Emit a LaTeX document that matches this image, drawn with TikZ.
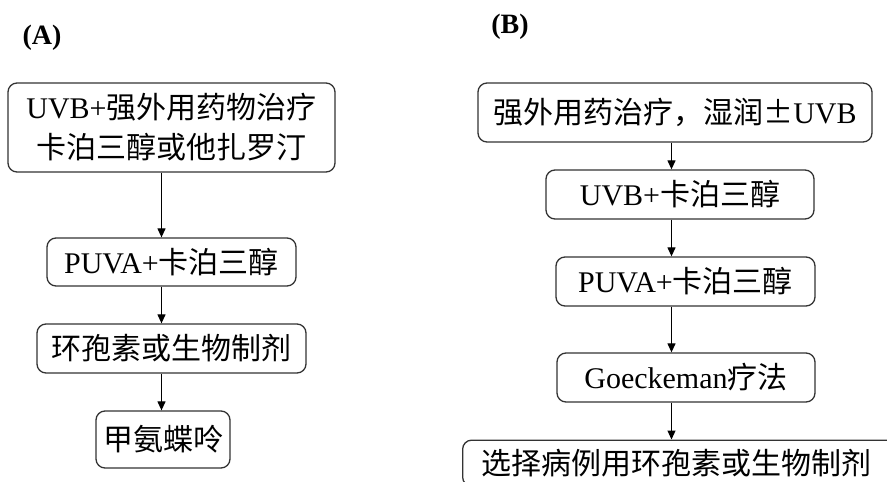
\documentclass[tikz,border=0pt]{standalone}
\usepackage{fontspec}
\setmainfont{Liberation Serif}
\newfontfamily\cjk{Noto Sans CJK SC}
\usetikzlibrary{arrows.meta}
\begin{document}
\begin{tikzpicture}[x=1pt,y=-1pt,
  box/.style={draw=black!80,line width=1.3pt,rounded corners=9pt,inner sep=0pt,align=center,font=\fontsize{30}{40}\selectfont},
  conn/.style={draw=black,line width=1.2pt,-{Triangle[length=9pt,width=8pt]}},
  lab/.style={font=\fontsize{28}{32}\selectfont\bfseries}]
\useasboundingbox (0,0) rectangle (887,482);
\clip (0,0) rectangle (887,482);
\node[lab] (la) at (42,38) {(A)};
\node[lab] (lb) at (510,27) {(B)};
% A column
\node[box,minimum width=327pt,minimum height=89pt] (a1) at (171.5,127.5)
  {UVB+{\cjk 强外用药物治疗}\\{\cjk 卡泊三醇或他扎罗汀}};
\node[box,minimum width=249pt,minimum height=48pt] (a2) at (171.5,262) {PUVA+{\cjk 卡泊三醇}};
\node[box,minimum width=269pt,minimum height=49pt] (a3) at (171.5,348.5) {\cjk 环孢素或生物制剂};
\node[box,minimum width=134pt,minimum height=57pt] (a4) at (163,439.5) {\cjk 甲氨蝶呤};
\coordinate (ca) at (161.5,0);
\draw[conn] (a1.south -| ca) -- (a2.north -| ca);
\draw[conn] (a2.south -| ca) -- (a3.north -| ca);
\draw[conn] (a3.south -| ca) -- (a4.north -| ca);
% B column
\node[box,minimum width=394pt,minimum height=59pt] (b1) at (675,112.5) {{\cjk 强外用药治疗，湿润}{\cjk ±}UVB};
\node[box,minimum width=268pt,minimum height=49pt] (b2) at (680,194.5) {UVB+{\cjk 卡泊三醇}};
\node[box,minimum width=259pt,minimum height=49pt] (b3) at (685.5,281.5) {PUVA+{\cjk 卡泊三醇}};
\node[box,minimum width=258pt,minimum height=49pt] (b4) at (686,377.5) {Goeckeman{\cjk 疗法}};
\node[box,minimum width=460pt,minimum height=46pt,anchor=north west] (b5) at (462,439.5)
  {\hspace*{-32pt}{\cjk 选择病例用环孢素或生物制剂}};
\coordinate (cb) at (671.5,0);
\draw[conn] (b1.south -| cb) -- (b2.north -| cb);
\draw[conn] (b2.south -| cb) -- (b3.north -| cb);
\draw[conn] (b3.south -| cb) -- (b4.north -| cb);
\draw[conn] (b4.south -| cb) -- (b5.north -| cb);
\end{tikzpicture}
\end{document}
